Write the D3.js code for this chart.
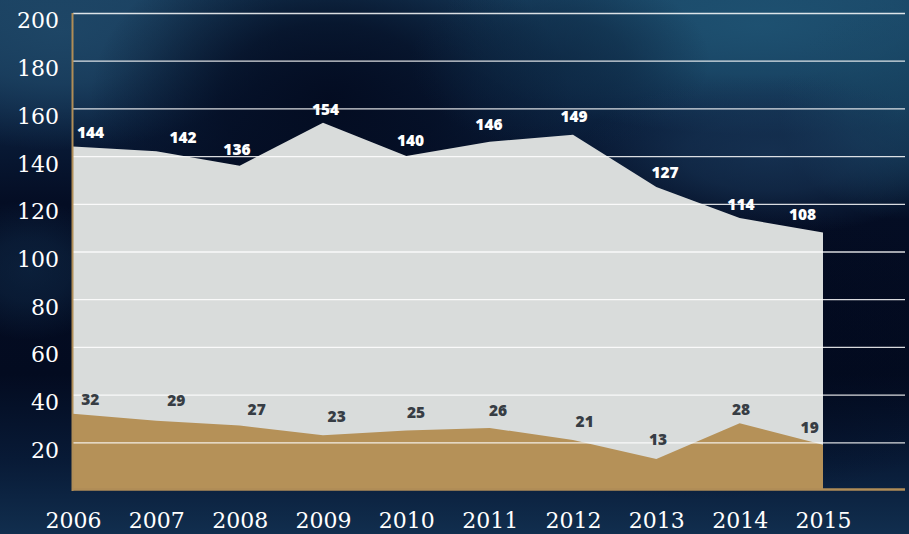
<!DOCTYPE html>
<html>
<head>
<meta charset="utf-8">
<script src="https://cdn.jsdelivr.net/npm/d3@7"></script>
<style>
  html, body { margin: 0; padding: 0; background: #061530; }
  svg { display: block; }
</style>
</head>
<body>
<svg id="chart" width="909" height="534"></svg>
<script>
// ---- data ----
const years = [2006, 2007, 2008, 2009, 2010, 2011, 2012, 2013, 2014, 2015];
const totalValues = [144, 142, 136, 154, 140, 146, 149, 127, 114, 108];
const subsetValues = [32, 29, 27, 23, 25, 26, 21, 13, 28, 19];
const yTickValues = [20, 40, 60, 80, 100, 120, 140, 160, 180, 200];

// ---- label nudges (layout only) ----
const totalLabelDx = [17.5, 26.7, -2.7, 2.5, 4.2, -0.7, 1, 8.7, 1.3, -20.5];
const totalLabelDy = [-13.9, -13.6, -16.6, -13.7, -15.4, -17.1, -18.6, -14.4, -14.1, -18.1];
const subsetLabelDx = [17.3, 20, 17, 13.7, 9.7, 8.3, 11.7, 1.7, 1.3, -13.3];
const subsetLabelDy = [-14.7, -20.1, -16.6, -18.4, -17.7, -17.3, -18.2, -19.7, -13.9, -17];

const W = 909, H = 534;
const svg = d3.select("#chart");
const defs = svg.append("defs");

// ---- background (photo-like sky) ----
const bg = defs.append("linearGradient").attr("id", "bgGrad")
  .attr("x1", 0).attr("y1", 0).attr("x2", 0).attr("y2", 1);
[["0%", "#163a5a"], ["18%", "#0c2342"], ["38%", "#040d24"], ["70%", "#030b20"], ["86%", "#081a36"], ["100%", "#112e4e"]]
  .forEach(([o, c]) => bg.append("stop").attr("offset", o).attr("stop-color", c));
svg.append("rect").attr("width", W).attr("height", H).attr("fill", "url(#bgGrad)");

const cloudShapes = [
  [60, 30, 220, 120, "#1f4868", 0.9],
  [760, 25, 320, 110, "#1f5474", 0.9],
  [900, 110, 120, 110, "#1a4a68", 0.7],
  [330, 100, 240, 170, "#030b20", 0.95],
  [560, 60, 150, 90, "#0c2540", 0.7],
  [770, 155, 190, 80, "#1a3a5c", 0.7],
  [30, 270, 90, 70, "#102c4a", 0.6],
  [700, 350, 330, 150, "#020a1e", 0.6]
];
const clouds = svg.append("g");
cloudShapes.forEach(([cx, cy, rx, ry, c, o], k) => {
  const g = defs.append("radialGradient").attr("id", "cloud" + k);
  g.append("stop").attr("offset", "0%").attr("stop-color", c).attr("stop-opacity", o);
  g.append("stop").attr("offset", "45%").attr("stop-color", c).attr("stop-opacity", o * 0.75);
  g.append("stop").attr("offset", "100%").attr("stop-color", c).attr("stop-opacity", 0);
  clouds.append("ellipse").attr("cx", cx).attr("cy", cy).attr("rx", rx).attr("ry", ry)
    .attr("fill", `url(#cloud${k})`);
});

// ---- scales ----
const x = d3.scaleLinear().domain([2006, 2015]).range([73, 823]);
const y = d3.scaleLinear().domain([0, 200]).range([490, 13]);
const gridRight = 905;

const rows = years.map((yr, i) => ({ year: yr, total: totalValues[i], subset: subsetValues[i], i }));

// ---- areas ----
const areaTotal = d3.area().x(d => x(d.year)).y0(y(0)).y1(d => y(d.total));
const areaSubset = d3.area().x(d => x(d.year)).y0(y(0)).y1(d => y(d.subset));
svg.append("path").datum(rows).attr("d", areaTotal).attr("fill", "#d9dcdb");
svg.append("path").datum(rows).attr("d", areaSubset).attr("fill", "#b59158");

// ---- gridlines ----
const grid = svg.append("g").attr("transform", `translate(${x(2006)},0)`)
  .call(d3.axisLeft(y).tickValues(yTickValues).tickSize(-(gridRight - x(2006))).tickFormat(""));
grid.select(".domain").remove();
grid.selectAll(".tick line").attr("stroke", "#ffffff").attr("stroke-opacity", 0.85).attr("stroke-width", 1.3);

// ---- axis lines (gold) ----
svg.append("line").attr("x1", 72.5).attr("x2", 72.5).attr("y1", y(200)).attr("y2", y(0) + 1)
  .attr("stroke", "#b08d57").attr("stroke-width", 2);
svg.append("line").attr("x1", 72).attr("x2", gridRight).attr("y1", y(0) - 0.5).attr("y2", y(0) - 0.5)
  .attr("stroke", "#b08d57").attr("stroke-width", 2.5);

// ---- y-axis labels ----
const yAxis = svg.append("g").attr("transform", "translate(59,0)")
  .call(d3.axisLeft(y).tickValues(yTickValues).tickSize(0).tickPadding(0));
yAxis.select(".domain").remove();
yAxis.selectAll(".tick text")
  .attr("fill", "#ffffff").attr("font-family", "'DejaVu Serif', serif").attr("font-size", 22)
  .attr("dy", "0.68em").attr("text-anchor", "end").attr("y", 0);

// ---- x-axis labels ----
const xAxis = svg.append("g").attr("transform", "translate(0,512)")
  .call(d3.axisBottom(x).tickValues(years).tickFormat(d3.format("d")).tickSize(0).tickPadding(0));
xAxis.select(".domain").remove();
xAxis.selectAll(".tick text")
  .attr("fill", "#ffffff").attr("font-family", "'DejaVu Serif', serif").attr("font-size", 22)
  .attr("dy", "0.72em").attr("y", 0);

// ---- value labels ----
svg.append("g").selectAll("text").data(rows).join("text")
  .attr("x", d => x(d.year) + totalLabelDx[d.i])
  .attr("y", d => y(d.total) + totalLabelDy[d.i])
  .attr("dy", "0.36em").attr("text-anchor", "middle")
  .attr("font-family", "'Open Sans', sans-serif").attr("font-weight", 800).attr("font-size", 15.5)
  .attr("fill", "#ffffff").text(d => d.total);

svg.append("g").selectAll("text").data(rows).join("text")
  .attr("x", d => x(d.year) + subsetLabelDx[d.i])
  .attr("y", d => y(d.subset) + subsetLabelDy[d.i])
  .attr("dy", "0.36em").attr("text-anchor", "middle")
  .attr("font-family", "'Open Sans', sans-serif").attr("font-weight", 800).attr("font-size", 15.5)
  .attr("fill", "#373d44").text(d => d.subset);
</script>
</body>
</html>
